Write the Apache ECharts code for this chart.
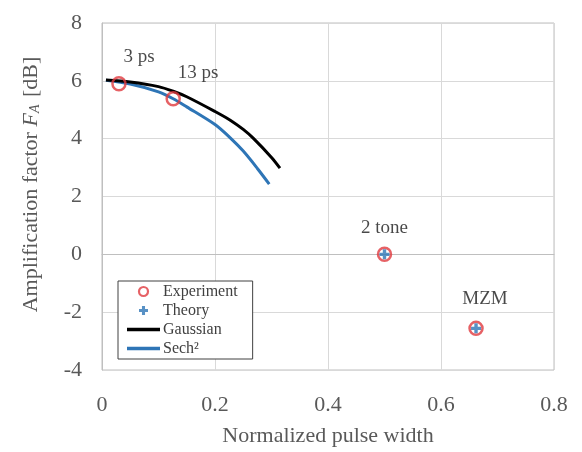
<!DOCTYPE html>
<html>
<head>
<meta charset="utf-8">
<script src="https://cdn.jsdelivr.net/npm/echarts@6/dist/echarts.min.js"></script>
<style>html,body{margin:0;padding:0;background:#fff}#c{width:582px;height:452px}</style>
</head>
<body>
<div id="c"></div>
<script>
// ---- data ----
const xTicks = [0, 0.2, 0.4, 0.6, 0.8];
const yTicks = [-4, -2, 0, 2, 4, 6, 8];
const expX = [0.03, 0.126, 0.5, 0.662];
const expY = [5.9, 5.38, 0, -2.56];
const expLabels = ['3 ps', '13 ps', '2 tone', 'MZM'];
const theoryX = [0.5, 0.662];
const theoryY = [0, -2.56];
const gaussX = [0.007, 0.05, 0.1, 0.126, 0.15, 0.2, 0.227, 0.25, 0.268, 0.3, 0.315];
const gaussY = [6.03, 5.96, 5.8, 5.64, 5.45, 4.94, 4.64, 4.32, 4.01, 3.35, 2.98];
const sechX = [0.007, 0.05, 0.1, 0.126, 0.15, 0.2, 0.227, 0.25, 0.275, 0.296];
const sechY = [6.02, 5.89, 5.62, 5.38, 5.1, 4.49, 4.03, 3.57, 2.97, 2.43];
const labelOffsets = [[20, -5], [25, -4], [0, -5], [9, -8]];

const serif = '"Liberation Serif", "DejaVu Serif", serif';
const red = '#e0393e';
const blue = '#2e75b6';
const plusPath = 'path://M3.3,0h3.4v3.3h3.3v3.4h-3.3v3.3h-3.4v-3.3h-3.3v-3.4h3.3z';
const lineIcon = 'path://M0,0h33v3.5h-33z';

const chart = echarts.init(document.getElementById('c'), null, {renderer: 'canvas'});
chart.setOption({
  animation: false,
  backgroundColor: '#fff',
  grid: {left: 102, right: 28, top: 23, bottom: 80, show: true, borderColor: '#bfbfbf', borderWidth: 1},
  xAxis: {
    type: 'value', min: xTicks[0], max: xTicks[xTicks.length - 1], interval: 0.2,
    name: 'Normalized pulse width', nameLocation: 'middle', nameGap: 55,
    nameTextStyle: {fontFamily: serif, fontSize: 22, color: '#595959'},
    axisLine: {show: true, lineStyle: {color: '#bfbfbf'}},
    axisTick: {show: false},
    axisLabel: {fontFamily: serif, fontSize: 22, color: '#595959', margin: 24,
      formatter: v => String(+v.toFixed(1))},
    splitLine: {lineStyle: {color: '#d9d9d9'}}
  },
  yAxis: {
    type: 'value', min: yTicks[0], max: yTicks[yTicks.length - 1], interval: 2,
    name: 'Amplification factor {i|F}{s|A} [dB]', nameLocation: 'middle', nameGap: 60, nameRotate: 90,
    nameTextStyle: {fontFamily: serif, fontSize: 22, color: '#595959', padding: [0, 0, 0, 24],
      rich: {
        i: {fontFamily: serif, fontSize: 22, fontStyle: 'italic', color: '#595959'},
        s: {fontFamily: serif, fontSize: 14, fontStyle: 'italic', color: '#595959', verticalAlign: 'bottom', padding: [8, 2, 0, 0]}
      }},
    axisLine: {show: true, lineStyle: {color: '#bfbfbf'}},
    axisTick: {show: false},
    axisLabel: {fontFamily: serif, fontSize: 22, color: '#595959', margin: 20},
    splitLine: {lineStyle: {color: '#d9d9d9'}}
  },
  legend: {
    orient: 'vertical', left: 118, top: 281,
    padding: [2, 15, 2, 9], itemGap: 2, itemWidth: 33, itemHeight: 9,
    borderColor: '#404040', borderWidth: 1, backgroundColor: '#fff',
    textStyle: {fontFamily: serif, fontSize: 16, lineHeight: 17, color: '#404040', padding: [0, 0, 0, -2]},
    data: [
      {name: 'Experiment', icon: 'circle', itemStyle: {color: '#fff', borderColor: red, borderWidth: 2.2}},
      {name: 'Theory', icon: plusPath, itemStyle: {color: blue, borderWidth: 0}},
      {name: 'Gaussian', icon: lineIcon, itemStyle: {color: '#000', borderWidth: 0}},
      {name: 'Sech\u00b2', icon: lineIcon, itemStyle: {color: blue, borderWidth: 0}}
    ]
  },
  series: [
    {
      name: 'Gaussian', type: 'line', smooth: 0.3, symbol: 'none',
      lineStyle: {color: '#000', width: 3}, itemStyle: {color: '#000'},
      data: gaussX.map((x, i) => [x, gaussY[i]]), z: 2
    },
    {
      name: 'Sech\u00b2', type: 'line', smooth: 0.3, symbol: 'none',
      lineStyle: {color: blue, width: 3}, itemStyle: {color: blue},
      data: sechX.map((x, i) => [x, sechY[i]]), z: 1
    },
    {
      name: 'Experiment', type: 'scatter', symbol: 'circle', symbolSize: 13, z: 3,
      itemStyle: {color: 'rgba(255,255,255,0)', borderColor: red, borderWidth: 2.5},
      label: {show: true, position: 'top', distance: 4,
        fontFamily: serif, fontSize: 19, color: '#1a1a1a', formatter: p => p.name},
      data: expX.map((x, i) => ({name: expLabels[i], value: [x, expY[i]],
        label: {offset: labelOffsets[i]}}))
    },
    {
      name: 'Theory', type: 'scatter', symbol: plusPath, symbolSize: 10, z: 4,
      itemStyle: {color: blue},
      data: theoryX.map((x, i) => [x, theoryY[i]])
    }
  ]
});
</script>
</body>
</html>
